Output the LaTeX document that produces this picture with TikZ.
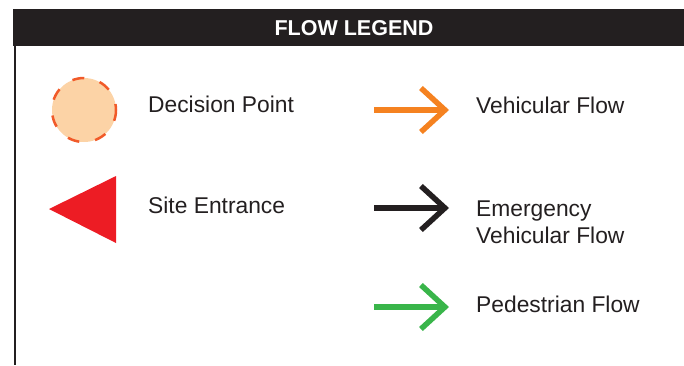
\documentclass[tikz,border=0pt]{standalone}
\usepackage{fontspec}
\setmainfont{Liberation Sans}
\usetikzlibrary{arrows.meta}
\definecolor{legendblack}{HTML}{231F20}
\definecolor{decisionfill}{HTML}{FCD3A6}
\definecolor{decisionedge}{HTML}{F15A29}
\definecolor{entrancered}{HTML}{ED1C24}
\definecolor{vehorange}{HTML}{F58220}
\definecolor{pedgreen}{HTML}{39B54A}

\begin{document}
\begin{tikzpicture}[x=1pt,y=-1pt,
	flow/.style={line width=5.5pt,-{Straight Barb[length=24pt,width=44pt,line width=5.5pt]}},
	legendtext/.style={anchor=base west,inner sep=0pt,font=\fontsize{22.8}{27}\selectfont,text=legendblack,align=left}]
					\useasboundingbox (0,0) rectangle (684,365);
					\fill[legendblack] (13,9) rectangle (684,46);
					\node (title) [anchor=base,inner sep=0pt,text=white,font=\fontsize{21.5}{26}\bfseries\selectfont] at (354,35) {FLOW LEGEND};
					\draw[legendblack,line width=2pt] (14.5,45) -- (14.5,365);

					\node (decision) [circle,minimum size=64pt,inner sep=0pt,fill=decisionfill,draw=decisionedge,line width=2.5pt,dash pattern=on 12pt off 16pt,dash phase=6pt] at (84,110) {};
					\node (decisionlabel) [legendtext] at (148,112) {Decision Point};

					\fill[entrancered] (49,209) -- (116,176) -- (116,243) -- cycle;
					\node (entrancelabel) [legendtext] at (148,213) {Site Entrance};

					\coordinate (vehstart) at (374,110);
					\coordinate (vehend) at (449,110);
					\draw[flow,vehorange] (vehstart) -- (vehend);
					\node (vehlabel) [legendtext] at (476,113) {Vehicular Flow};

					\coordinate (emstart) at (374,208);
					\coordinate (emend) at (449,208);
					\draw[flow,legendblack] (emstart) -- (emend);
					\node (emlabel) [legendtext] at (476,243) {Emergency\\Vehicular Flow};

					\coordinate (pedstart) at (374,307);
					\coordinate (pedend) at (449,307);
					\draw[flow,pedgreen] (pedstart) -- (pedend);
					\node (pedlabel) [legendtext] at (476,312) {Pedestrian Flow};
\end{tikzpicture}
\end{document}
